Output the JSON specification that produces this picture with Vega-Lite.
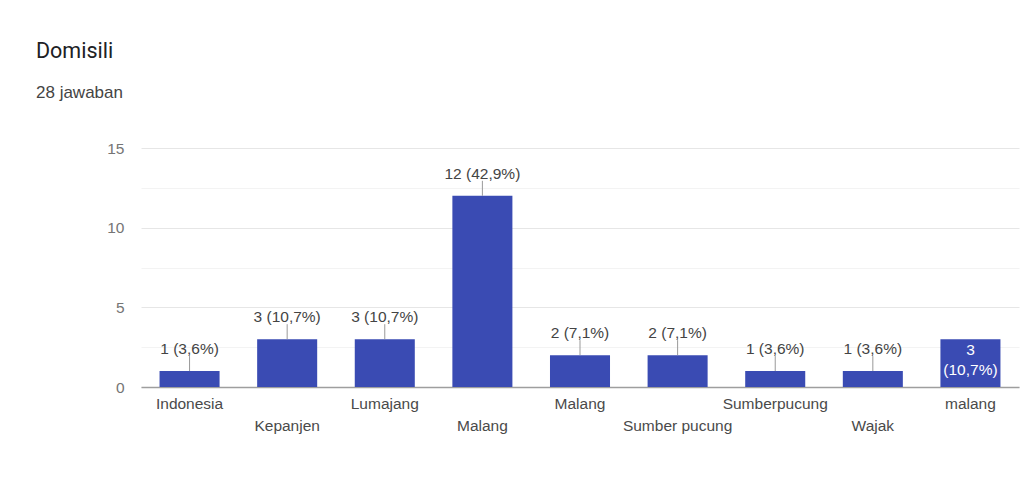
{
  "$schema": "https://vega.github.io/schema/vega-lite/v6.json",
  "autosize": "none",
  "width": 878,
  "height": 239,
  "padding": {"left": 141, "top": 148, "right": 6, "bottom": 96},
  "background": "white",
  "title": {
    "text": "Domisili",
    "subtitle": "28 jawaban",
    "anchor": "start",
    "frame": "group",
    "dx": -105,
    "offset": 40,
    "font": "Roboto",
    "fontSize": 21.5,
    "fontWeight": "normal",
    "color": "#202124",
    "subtitleFont": "Liberation Sans",
    "subtitleFontSize": 17,
    "subtitleColor": "#444444",
    "subtitlePadding": 23
  },
  "config": {
    "view": {"stroke": null},
    "font": "Liberation Sans"
  },
  "data": {
    "values": [
      {"cat": "Indonesia", "count": 1, "label": "1 (3,6%)"},
      {"cat": "Kepanjen", "count": 3, "label": "3 (10,7%)"},
      {"cat": "Lumajang", "count": 3, "label": "3 (10,7%)"},
      {"cat": "Malang", "count": 12, "label": "12 (42,9%)"},
      {"cat": "Malang ", "count": 2, "label": "2 (7,1%)"},
      {"cat": "Sumber pucung", "count": 2, "label": "2 (7,1%)"},
      {"cat": "Sumberpucung", "count": 1, "label": "1 (3,6%)"},
      {"cat": "Wajak", "count": 1, "label": "1 (3,6%)"},
      {"cat": "malang", "count": 3, "label": "3 (10,7%)"}
    ]
  },
  "encoding": {
    "x": {
      "field": "cat",
      "type": "nominal",
      "sort": null,
      "scale": {"paddingInner": 0.385, "paddingOuter": 0.19},
      "axis": {
        "title": null,
        "labelAngle": 0,
        "labelExpr": "trim(datum.label)",
        "labelOverlap": false,
        "labelBound": false,
        "labelFlush": false,
        "labelFontSize": 15.5,
        "labelColor": "#4a4a4a",
        "labelFont": "Liberation Sans",
        "labelBaseline": "top",
        "labelPadding": {
          "condition": {"test": "indexof(['Kepanjen','Malang','Sumber pucung','Wajak'], datum.value) >= 0", "value": 31},
          "value": 9
        },
        "ticks": false,
        "domainColor": "#9e9e9e",
        "domainWidth": 1.5
      }
    },
    "y": {
      "field": "count",
      "type": "quantitative",
      "scale": {"domain": [0, 15], "nice": false},
      "axis": {
        "title": null,
        "values": [0, 2.5, 5, 7.5, 10, 12.5, 15],
        "labelExpr": "datum.value % 5 == 0 ? datum.label : ''",
        "domain": false,
        "ticks": false,
        "labelPadding": 17,
        "labelFontSize": 15.5,
        "labelColor": "#757575",
        "labelFont": "Liberation Sans",
        "gridColor": {
          "condition": {"test": "datum.value % 5 == 0", "value": "#e6e6e6"},
          "value": "#f3f3f3"
        },
        "gridWidth": 1
      }
    }
  },
  "layer": [
    {
      "mark": {"type": "bar", "color": "#3a4bb3"}
    },
    {
      "transform": [{"filter": "datum.cat != 'malang'"}],
      "mark": {"type": "rule", "color": "#999999", "strokeWidth": 1, "y2Offset": -15},
      "encoding": {"y2": {"field": "count"}}
    },
    {
      "transform": [{"filter": "datum.cat != 'malang'"}],
      "mark": {"type": "text", "baseline": "alphabetic", "dy": -17, "fontSize": 15.5, "color": "#444444", "font": "Liberation Sans"},
      "encoding": {"text": {"field": "label"}}
    },
    {
      "transform": [{"filter": "datum.cat == 'malang'"}],
      "mark": {"type": "text", "baseline": "top", "dy": 4, "fontSize": 15.5, "color": "white", "lineBreak": " ", "lineHeight": 20, "font": "Liberation Sans"},
      "encoding": {"text": {"field": "label"}}
    }
  ]
}
